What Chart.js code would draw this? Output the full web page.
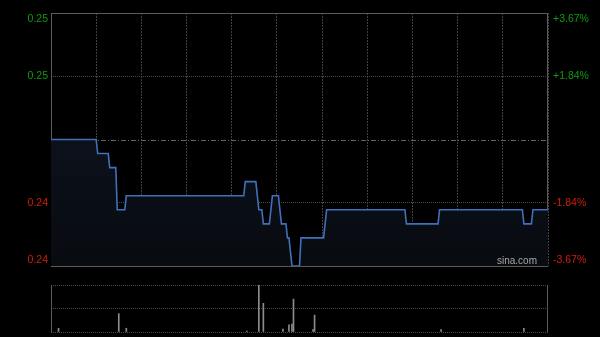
<!DOCTYPE html>
<html>
<head>
<meta charset="utf-8">
<script src="https://cdn.jsdelivr.net/npm/chart.js@4.4.1/dist/chart.umd.min.js"></script>
<style>
  html, body { margin: 0; background: #000; }
  #wrap { position: relative; width: 600px; height: 337px; }
  #wrap canvas { position: absolute; left: 0; top: 0; }
</style>
</head>
<body>
<div id="wrap">
  <canvas id="priceChart" width="600" height="337"></canvas>
  <canvas id="volChart" width="600" height="337"></canvas>
</div>
<script>
// minutes since 9:30 (HK session, 330 trading minutes), price at that minute
const minutes = [0, 30, 31, 38, 39, 43, 44, 49, 50, 128, 129, 136, 138, 140, 141, 145, 147, 151, 153, 156, 157, 158, 160, 165, 166, 181, 183, 235, 236, 257, 258, 313, 314, 319, 320, 330];
const prices  = [0.245, 0.245, 0.244, 0.244, 0.243, 0.243, 0.240, 0.240, 0.241, 0.241, 0.242, 0.242, 0.240, 0.240, 0.239, 0.239, 0.241, 0.241, 0.239, 0.239, 0.238, 0.238, 0.236, 0.236, 0.238, 0.238, 0.240, 0.240, 0.239, 0.239, 0.240, 0.240, 0.239, 0.239, 0.240, 0.240];

const volMinutes = [5, 45, 50, 130, 138, 141, 154, 158, 160, 161, 174, 175, 259, 314];
const volumes    = [8, 39, 8, 2, 100, 61, 6, 15, 17, 70, 5, 36, 5, 8];

const prevClose = 0.245;
const priceTicks  = [0.254, 0.2495, 0.2405, 0.236];
const priceLabels = ["0.25", "0.25", "0.24", "0.24"];
const pctLabels   = ["+3.67%", "+1.84%", "-1.84%", "-3.67%"];

const green = "#109a10";
const red = "#cf1f0b";
const labelFont = "10.5px 'Liberation Sans', Arial, sans-serif";

const priceDecor = {
  id: "priceDecor",
  beforeDatasetsDraw(chart) {
    const { ctx, chartArea: a, scales: { y } } = chart;
    ctx.save();
    // previous close line
    const yc = Math.round(y.getPixelForValue(prevClose)) + 0.5;
    ctx.strokeStyle = "#626262";
    ctx.lineWidth = 1;
    ctx.setLineDash([5, 2, 1, 2]);
    ctx.beginPath();
    ctx.moveTo(a.left, yc);
    ctx.lineTo(a.right, yc);
    ctx.stroke();
    // frame
    ctx.setLineDash([]);
    ctx.strokeStyle = "#5a5a5a";
    ctx.strokeRect(Math.round(a.left) + 0.5, Math.round(a.top) + 0.5, Math.round(a.width) - 1, Math.round(a.height));
    ctx.restore();
  },
  afterDraw(chart) {
    const { ctx, chartArea: a, scales: { y } } = chart;
    ctx.save();
    ctx.font = labelFont;
    ctx.textBaseline = "middle";
    priceTicks.forEach((v, i) => {
      let py = y.getPixelForValue(v);
      if (i === 0) py += 6;
      if (i === priceTicks.length - 1) py -= 6;
      ctx.fillStyle = v > prevClose ? green : red;
      ctx.textAlign = "right";
      ctx.fillText(priceLabels[i], a.left - 3, py);
      ctx.textAlign = "left";
      ctx.fillText(pctLabels[i], a.right + 5, py);
    });
    ctx.fillStyle = "#a8a8a8";
    ctx.textAlign = "right";
    ctx.font = "10px 'Liberation Sans', Arial, sans-serif";
    ctx.fillText("sina.com", a.right - 11, a.bottom - 5);
    ctx.restore();
  }
};

new Chart(document.getElementById("priceChart"), {
  type: "line",
  data: {
    datasets: [{
      data: minutes.map((m, i) => ({ x: m, y: prices[i] })),
      borderColor: "#4170bb",
      borderWidth: 1.6,
      pointRadius: 0,
      tension: 0,
      fill: "start",
      backgroundColor: (c) => {
        const a = c.chart.chartArea;
        if (!a) return "rgba(0,0,0,0)";
        const g = c.chart.ctx.createLinearGradient(0, a.top, 0, a.bottom);
        g.addColorStop(0, "#0f1726");
        g.addColorStop(1, "#080b10");
        return g;
      }
    }]
  },
  options: {
    responsive: false,
    animation: false,
    layout: { padding: { left: 51, right: 52, top: 13, bottom: 71 } },
    plugins: { legend: { display: false }, tooltip: { enabled: false } },
    scales: {
      x: {
        type: "linear",
        min: 0,
        max: 330,
        ticks: { display: false, stepSize: 30 },
        grid: { color: "#404040", drawTicks: false },
        border: { display: false, dash: [2, 1] }
      },
      y: {
        min: 0.236,
        max: 0.254,
        afterBuildTicks: (s) => { s.ticks = [0.2405, 0.2495].map(v => ({ value: v })); },
        ticks: { display: false },
        grid: { color: "#4a4a4a", drawTicks: false },
        border: { display: false, dash: [1, 1] }
      }
    }
  },
  plugins: [priceDecor]
});

const volDecor = {
  id: "volDecor",
  beforeDatasetsDraw(chart) {
    const { ctx, chartArea: a } = chart;
    ctx.save();
    ctx.strokeStyle = "#5a5a5a";
    ctx.lineWidth = 1;
    ctx.beginPath();
    ctx.moveTo(Math.round(a.left) + 0.5, a.top);
    ctx.lineTo(Math.round(a.left) + 0.5, a.bottom);
    ctx.moveTo(Math.round(a.right) - 0.5, a.top);
    ctx.lineTo(Math.round(a.right) - 0.5, a.bottom);
    ctx.stroke();
    ctx.restore();
  }
};

new Chart(document.getElementById("volChart"), {
  type: "bar",
  data: {
    datasets: [{
      data: volMinutes.map((m, i) => ({ x: m, y: volumes[i] })),
      backgroundColor: "#8c8c8c",
      barThickness: 1,
      borderWidth: 0
    }]
  },
  options: {
    responsive: false,
    animation: false,
    layout: { padding: { left: 51, right: 52, top: 285, bottom: 5 } },
    plugins: { legend: { display: false }, tooltip: { enabled: false } },
    scales: {
      x: {
        type: "linear",
        min: 0,
        max: 330,
        offset: false,
        ticks: { display: false },
        grid: { display: false, drawTicks: false },
        border: { display: false }
      },
      y: {
        min: 0,
        max: 100,
        afterBuildTicks: (s) => { s.ticks = [0, 50, 100].map(v => ({ value: v })); },
        ticks: { display: false },
        grid: { color: "#4a4a4a", drawTicks: false },
        border: { display: false, dash: [1, 1] }
      }
    }
  },
  plugins: [volDecor]
});
</script>
</body>
</html>
